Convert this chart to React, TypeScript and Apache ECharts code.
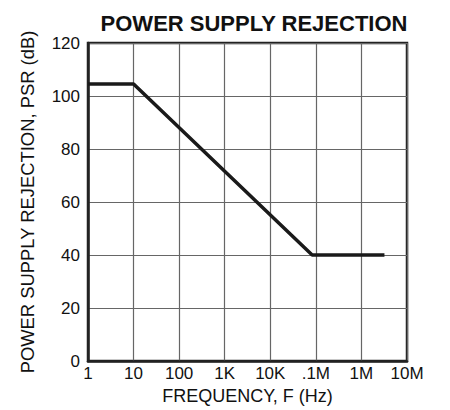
import React, { useEffect, useRef } from "react";
import * as echarts from "echarts";

const freqHz = [1, 10, 83000, 3200000];
const psrDb = [104.5, 104.5, 40, 40];
const xTickValues = [1, 10, 100, 1000, 10000, 100000, 1000000, 10000000];
const xTickLabels = ["1", "10", "100", "1K", "10K", ".1M", "1M", "10M"];

export default function App() {
  const ref = useRef<HTMLDivElement>(null);
  useEffect(() => {
    if (!ref.current) return;
    const chart = echarts.init(ref.current, undefined, { renderer: "svg" });
    const font = "Liberation Sans, Arial, Helvetica, sans-serif";
    chart.setOption({
      animation: false,
      title: {
        text: "POWER SUPPLY REJECTION",
        left: 249,
        textAlign: "center",
        top: 7,
        textStyle: { fontFamily: font, fontWeight: "bold", fontSize: 22, color: "#111" },
      },
      grid: {
        left: 88,
        right: 43,
        top: 43,
        bottom: 49,
        show: true,
        borderColor: "#222",
        borderWidth: 2.5,
      },
      xAxis: {
        type: "log",
        logBase: 10,
        min: 1,
        max: 10000000,
        name: "FREQUENCY, F (Hz)",
        nameLocation: "middle",
        nameGap: 24,
        nameTextStyle: { fontFamily: font, fontSize: 18, color: "#111", verticalAlign: "top" },
        axisLine: { show: true, lineStyle: { color: "#222", width: 2.5 } },
        axisTick: { show: false },
        splitLine: { show: true, lineStyle: { color: "#666", width: 1.2 } },
        minorTick: { show: false },
        axisLabel: {
          fontFamily: font,
          fontSize: 17,
          color: "#111",
          margin: 4,
          formatter: (v: number) => {
            const i = xTickValues.findIndex((t) => Math.abs(Math.log10(t) - Math.log10(v)) < 1e-6);
            return i >= 0 ? xTickLabels[i] : "";
          },
        },
      },
      yAxis: {
        type: "value",
        min: 0,
        max: 120,
        interval: 20,
        name: "POWER SUPPLY REJECTION, PSR (dB)",
        nameLocation: "middle",
        nameGap: 52,
        nameTextStyle: { fontFamily: font, fontSize: 18.4, color: "#111" },
        axisLine: { show: true, lineStyle: { color: "#222", width: 2.5 } },
        axisTick: { show: false },
        splitLine: { show: true, lineStyle: { color: "#666", width: 1.2 } },
        axisLabel: { fontFamily: font, fontSize: 17, color: "#111", margin: 8 },
      },
      series: [
        {
          type: "line",
          data: freqHz.map((f, i) => [f, psrDb[i]]),
          symbol: "none",
          lineStyle: { color: "#1a1a1a", width: 3.5 },
        },
      ],
    });
    return () => chart.dispose();
  }, []);
  return (
    <div
      ref={ref}
      style={{ position: "absolute", left: 0, top: 0, width: 450, height: 410 }}
    />
  );
}
